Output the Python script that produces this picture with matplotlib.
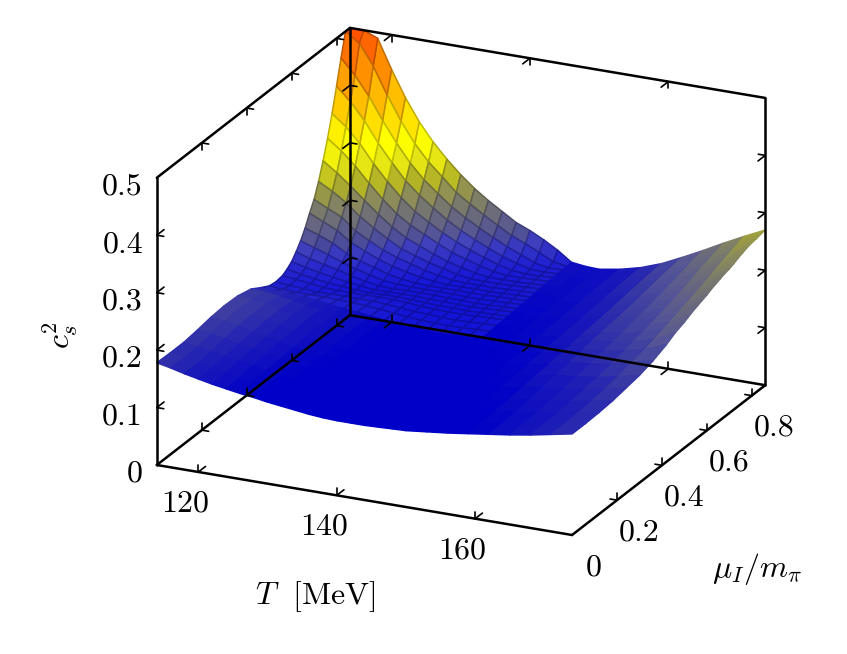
import numpy as np
import matplotlib
matplotlib.use('Agg')
import matplotlib.pyplot as plt
from matplotlib.colors import LinearSegmentedColormap
from mpl_toolkits.mplot3d import proj3d

plt.rcParams['mathtext.fontset'] = 'cm'
plt.rcParams['font.family'] = 'cmr10'
plt.rcParams['axes.formatter.use_mathtext'] = True

T_vals = [114, 116, 118, 120, 122, 124, 126, 128, 130, 132, 134, 136, 138, 140, 142, 144, 146, 148, 150,
          153, 156, 159, 162, 165, 168, 171, 174]
mu_vals = [0, .06, .12, .18, .24, .30, .36, .42, .46, .50, .53, .56, .58, .60,
           .62, .64, .66, .68, .70, .72, .74, .76, .78, .80, .82, .84, .86]

# speed of sound squared, one line per temperature
cs2_table = np.array([
    [.178, .177, .177, .180, .184, .186, .185, .179, .169, .160, .158, .160, .165, .172, .183, .196, .212, .232, .250, .275, .305, .338, .375, .417, .460, .510, .560],
    [.173, .172, .173, .177, .181, .183, .182, .177, .168, .158, .156, .157, .160, .166, .175, .188, .204, .221, .238, .262, .288, .320, .356, .394, .434, .483, .530],
    [.167, .167, .169, .173, .177, .178, .178, .174, .167, .157, .154, .154, .156, .161, .169, .180, .194, .210, .227, .246, .269, .298, .331, .365, .402, .448, .490],
    [.162, .162, .164, .167, .170, .172, .172, .170, .165, .157, .152, .151, .153, .157, .164, .171, .180, .193, .207, .226, .248, .272, .300, .330, .363, .402, .440],
    [.157, .158, .160, .163, .165, .167, .168, .166, .163, .157, .153, .150, .151, .153, .157, .163, .171, .182, .194, .210, .228, .248, .273, .300, .328, .360, .395],
    [.153, .154, .156, .158, .161, .162, .163, .162, .160, .156, .153, .150, .149, .150, .152, .157, .164, .172, .182, .195, .210, .227, .249, .272, .297, .325, .357],
    [.149, .150, .152, .154, .156, .158, .158, .158, .157, .155, .153, .150, .148, .147, .148, .151, .156, .164, .173, .182, .195, .211, .229, .251, .272, .297, .326],
    [.146, .146, .148, .150, .152, .154, .155, .155, .155, .154, .153, .151, .149, .148, .147, .149, .152, .158, .166, .174, .185, .199, .214, .233, .252, .275, .300],
    [.142, .143, .145, .147, .149, .150, .151, .152, .152, .152, .151, .150, .149, .148, .148, .148, .149, .153, .159, .166, .175, .187, .200, .216, .233, .252, .277],
    [.139, .140, .141, .143, .145, .147, .148, .149, .149, .149, .149, .149, .148, .148, .148, .148, .148, .150, .154, .160, .166, .176, .188, .202, .218, .236, .257],
    [.136, .137, .138, .140, .142, .144, .145, .146, .147, .147, .147, .147, .147, .147, .148, .148, .148, .148, .150, .154, .160, .168, .178, .190, .204, .221, .240],
    [.133, .134, .135, .137, .139, .141, .143, .144, .145, .145, .146, .146, .146, .147, .147, .148, .148, .148, .149, .150, .154, .161, .169, .179, .192, .207, .225],
    [.131, .132, .133, .135, .137, .139, .141, .142, .143, .144, .145, .145, .146, .146, .147, .147, .148, .149, .149, .150, .151, .155, .161, .169, .180, .193, .210],
    [.130, .131, .132, .134, .136, .138, .140, .141, .142, .143, .144, .145, .145, .146, .146, .147, .148, .148, .149, .150, .151, .152, .155, .161, .170, .183, .200],
    [.130, .131, .132, .134, .136, .138, .140, .141, .143, .144, .145, .146, .146, .147, .147, .148, .149, .149, .150, .151, .151, .152, .153, .155, .160, .172, .188],
    [.130, .131, .133, .135, .137, .139, .141, .143, .144, .145, .146, .147, .147, .148, .148, .149, .150, .150, .151, .152, .152, .153, .153, .154, .155, .160, .174],
    [.131, .132, .134, .136, .138, .140, .142, .144, .145, .146, .147, .148, .148, .149, .149, .150, .151, .151, .152, .153, .153, .154, .155, .155, .156, .156, .157],
    [.132, .133, .135, .137, .139, .141, .143, .145, .146, .147, .148, .148, .149, .149, .150, .150, .151, .151, .152, .152, .153, .153, .153, .154, .154, .154, .154],
    [.133, .134, .136, .138, .140, .142, .144, .146, .147, .148, .148, .149, .149, .150, .150, .150, .151, .151, .151, .152, .152, .152, .152, .153, .153, .153, .153],
    [.137, .138, .139, .141, .143, .145, .147, .149, .150, .151, .152, .152, .153, .153, .154, .154, .155, .155, .156, .156, .157, .157, .158, .158, .158, .159, .159],
    [.141, .142, .143, .145, .147, .149, .151, .153, .155, .156, .157, .158, .158, .159, .160, .160, .161, .162, .163, .164, .164, .165, .166, .166, .167, .167, .168],
    [.146, .146, .148, .150, .152, .155, .157, .160, .162, .164, .165, .166, .167, .168, .169, .170, .171, .172, .173, .174, .175, .176, .177, .178, .179, .180, .181],
    [.151, .151, .153, .156, .160, .163, .167, .171, .174, .176, .178, .179, .180, .181, .182, .183, .184, .186, .187, .189, .190, .192, .193, .194, .195, .197, .198],
    [.156, .156, .158, .160, .163, .166, .170, .175, .178, .181, .184, .186, .188, .190, .191, .193, .195, .197, .199, .201, .203, .205, .207, .209, .212, .214, .216],
    [.162, .162, .163, .165, .168, .171, .176, .181, .185, .189, .192, .195, .197, .199, .201, .204, .206, .209, .212, .215, .218, .221, .224, .227, .229, .232, .235],
    [.169, .169, .170, .172, .175, .179, .185, .190, .195, .200, .204, .208, .211, .214, .216, .219, .222, .225, .228, .232, .235, .238, .241, .244, .247, .250, .253],
    [.176, .176, .177, .179, .183, .187, .194, .204, .213, .219, .225, .230, .233, .236, .240, .243, .246, .249, .251, .254, .258, .261, .264, .266, .267, .269, .270],
])

T_ticks = [120, 140, 160]
mu_ticks = [0.2, 0.4, 0.6, 0.8]
z_ticks = [0.1, 0.2, 0.3, 0.4]
z_labels = ['0', '0.1', '0.2', '0.3', '0.4', '0.5']
z_label_pos = [0, 0.1, 0.2, 0.3, 0.4, 0.5]
mu_labels = ['0', '0.2', '0.4', '0.6', '0.8']
mu_label_pos = [0, 0.2, 0.4, 0.6, 0.8]

T_min, T_max, mu_max, z_top = 114, 174, 0.86, 0.5
pal_z = [.13, .145, .165, .18, .20, .22, .25, .27, .30, .33, .40, .50]
pal_col = ['#0000c8', '#0000c8', '#1c1cb7', '#3737a5', '#555596', '#69697d', '#8c8c5a', '#afaf28',
           '#e6e614', '#ffff00', '#ffbe00', '#ff5000']
pal = LinearSegmentedColormap.from_list(
    'cs', [((z - .13) / .37, c) for z, c in zip(pal_z, pal_col)])

fig = plt.figure(figsize=(8.47, 6.54), dpi=100)
ax = fig.add_axes([125.2 / 847, 36.7 / 654, 654 / 847, 1], projection='3d',
                  proj_type='ortho', computed_zorder=False)
ax.view_init(elev=21.2, azim=-65)
ax.set_box_aspect((458, 457, 308), zoom=1.064)
ax.set_xlim(T_min, T_max)
ax.set_ylim(0, mu_max)
ax.set_zlim(0, z_top)
ax.set_axis_off()

TT, MM = np.meshgrid(T_vals, mu_vals, indexing='ij')
ZZ = np.minimum(cs2_table, z_top)
mid = (ZZ[:-1, :-1] + ZZ[1:, :-1] + ZZ[:-1, 1:] + ZZ[1:, 1:]) / 4
face = pal((mid - .13) / .37)

# grid lines only show on the steep part, below T = 146
meshed = (TT[:-1, :-1] < 146) & (MM[:-1, :-1] >= 0.46)
lift = meshed & (mid < .19)
face[lift, :3] = 0.7 * face[lift, :3] + 0.3 * np.array([.25, .25, 1.0])
surf = ax.plot_surface(TT, MM, ZZ, facecolors=face, rstride=1, cstride=1,
                       shade=False, linewidth=1.1, zorder=1, antialiased=True)
edge = face.copy()
edge[..., :3] = edge[..., :3] * np.where(meshed, 0.76, 1.0)[..., None]
surf.set_edgecolor(edge.reshape(-1, 4))

lw_box = 1.8
lw_tick = 1.2


def line(xs, ys, zs, lw=lw_box):
    ax.plot(xs, ys, zs, color='k', lw=lw, zorder=10, solid_capstyle='round')


def label(x, y, z, s, **kw):
    # text stays 2D, placed where the 3D point lands
    px, py, _ = proj3d.proj_transform(x, y, z, ax.get_proj())
    ax.text2D(px, py, s, transform=ax.transData, va='center', fontsize=fs, **kw)


# box edges
line([T_min, T_max], [0, 0], [0, 0])
line([T_max, T_max], [0, mu_max], [0, 0])
line([T_max, T_min], [mu_max, mu_max], [0, 0])
line([T_min, T_min], [mu_max, 0], [0, 0])
line([T_min, T_min], [0, 0], [0, z_top])
line([T_min, T_min], [mu_max, mu_max], [0, z_top])
line([T_max, T_max], [mu_max, mu_max], [0, z_top])
line([T_min, T_min], [0, mu_max], [z_top, z_top])
line([T_min, T_max], [mu_max, mu_max], [z_top, z_top])

# gnuplot style ticks, two short strokes on each edge
dT, dmu, dz = 1.0, 0.032, 0.012
for t in T_ticks:
    line([t, t], [0, dmu], [0, 0], lw_tick)
    line([t, t], [0, 0], [0, dz], lw_tick)
    line([t, t], [mu_max, mu_max - dmu], [0, 0], lw_tick)
    line([t, t], [mu_max, mu_max], [0, dz], lw_tick)
    line([t, t], [mu_max, mu_max - dmu], [z_top, z_top], lw_tick)
    line([t, t], [mu_max, mu_max], [z_top, z_top - dz], lw_tick)
for m in mu_ticks:
    line([T_max, T_max - dT], [m, m], [0, 0], lw_tick)
    line([T_max, T_max], [m, m], [0, dz], lw_tick)
    line([T_min, T_min + dT], [m, m], [0, 0], lw_tick)
    line([T_min, T_min], [m, m], [0, dz], lw_tick)
    line([T_min, T_min + dT], [m, m], [z_top, z_top], lw_tick)
    line([T_min, T_min], [m, m], [z_top, z_top - dz], lw_tick)
for z in z_ticks:
    line([T_min, T_min + dT], [0, 0], [z, z], lw_tick)
    line([T_min, T_min], [0, dmu], [z, z], lw_tick)
    line([T_min, T_min + dT], [mu_max, mu_max], [z, z], lw_tick)
    line([T_min, T_min], [mu_max, mu_max - dmu], [z, z], lw_tick)
    line([T_max, T_max - dT], [mu_max, mu_max], [z, z], lw_tick)
    line([T_max, T_max], [mu_max, mu_max - dmu], [z, z], lw_tick)

fs = 23
for t in T_ticks:
    label(t, -0.058, -0.038, str(t), ha='center')
for m, s in zip(mu_label_pos, mu_labels):
    label(T_max + 3.2, m, -0.05, s, ha='center')
for z, s in zip(z_label_pos, z_labels):
    label(T_min - 2, 0, z - 0.02, s, ha='right')

fig.text(315 / 847, 1 - 597 / 654, r'$T\ \ [\mathrm{MeV}]$', ha='center', va='center', fontsize=fs)
fig.text(757 / 847, 1 - 569 / 654, r'$\mu_I/m_\pi$', ha='center', va='center', fontsize=fs)
fig.text(60 / 847, 1 - 335 / 654, r'$c_s^2$', ha='center', va='center', fontsize=fs, rotation=90)

fig.savefig('out.png', dpi=100)
